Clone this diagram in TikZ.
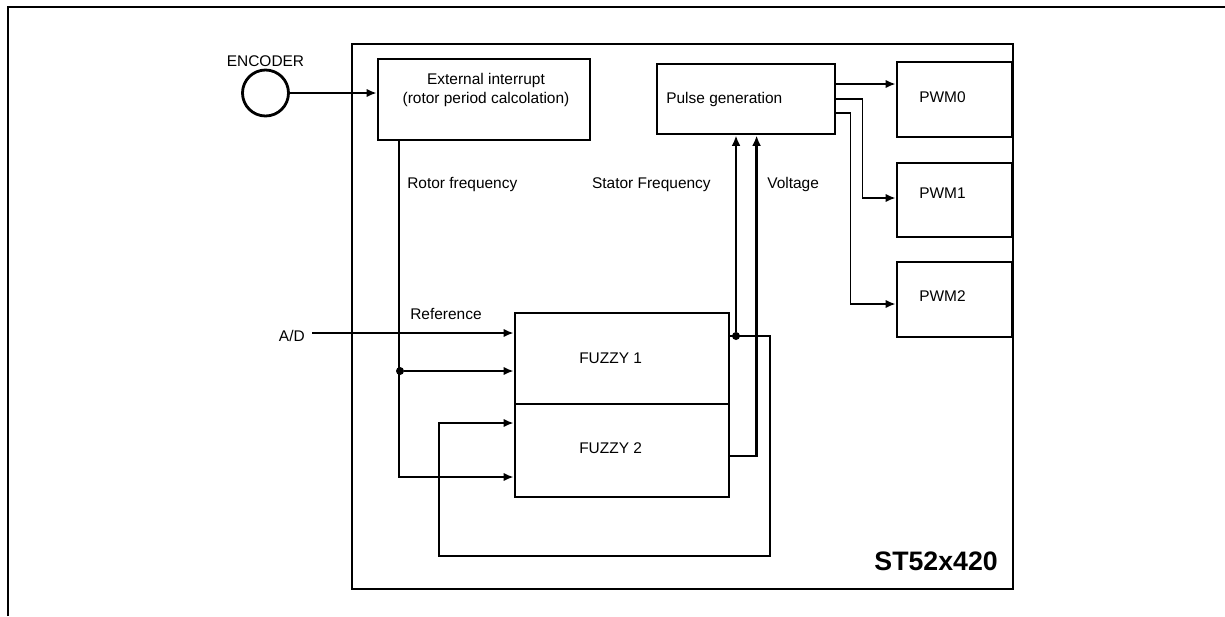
\documentclass[tikz,border=0pt]{standalone}
\usepackage{fontspec}
\setmainfont{Liberation Sans}
\usetikzlibrary{arrows.meta, positioning, calc}
\tikzset{
  block/.style={draw, line width=2pt, inner sep=0pt},
  txt/.style={inner sep=0pt, font=\fontsize{11}{13}\selectfont},
  link/.style={-{Latex[length=2.5mm, width=2.1mm]}, line width=1.3pt},
  feed/.style={-{Latex[length=2.6mm, width=2.2mm]}, line width=1.7pt},
  joint/.style={circle, fill, inner sep=0pt, minimum size=2mm}
}

\begin{document}
\begin{tikzpicture}[x=0.25mm, y=-0.25mm]
        \useasboundingbox (0,0) rectangle (1225,616);

        % Outer frame
        \draw[line width=1.7pt] (8,616) -- (8,7) -- (1225,7);

        % Chip boundary
        \node[block, minimum width=165.25mm, minimum height=136.25mm] (chip) at (682.5,316.5) {};
        \node[anchor=base east, inner sep=0pt, font=\fontsize{19}{22}\selectfont\bfseries] (chipname) at (998,570) {ST52x420};

        % Encoder
        \node[draw, circle, line width=2pt, minimum size=11.5mm, inner sep=0pt] (enc) at (265.5,93) {};
        \node[txt, anchor=base] (enclbl) at (265.5,66) {ENCODER};

        % Blocks
        \node[block, minimum width=53mm, minimum height=20.25mm] (ext) at (484,99.5) {};
        \node[txt, align=center] (exttxt) at (486,90) {External interrupt\\(rotor period calcolation)};
        \node[block, minimum width=44.5mm, minimum height=17.5mm] (pulse) at (746,99) {};
        \node[txt, anchor=base west] (pulsetxt) at (666,103) {Pulse generation};
        \node[block, minimum width=53.5mm, minimum height=22.75mm] (fuzzy1) at (622,358.5) {};
        \node[txt, anchor=base west] (f1txt) at (579,363) {FUZZY 1};
        \node[block, minimum width=53.5mm, minimum height=23.25mm] (fuzzy2) at (622,450.5) {};
        \node[txt, anchor=base west] (f2txt) at (579,453) {FUZZY 2};

        % Outputs
        \node[block, minimum width=28.75mm, minimum height=18.75mm] (pwm0) at (954.5,99.5) {};
        \node[txt, anchor=base west] (pwm0txt) at (919,102) {PWM0};
        \node[block, minimum width=28.75mm, minimum height=18.5mm] (pwm1) at (954.5,200) {};
        \node[txt, anchor=base west] (pwm1txt) at (919,198) {PWM1};
        \node[block, minimum width=28.75mm, minimum height=18.75mm] (pwm2) at (954.5,299.5) {};
        \node[txt, anchor=base west] (pwm2txt) at (919,301) {PWM2};

        % Signal labels
        \node[txt, anchor=base west] (rotlbl) at (407,188) {Rotor frequency};
        \node[txt, anchor=base east] (statlbl) at (711,188) {Stator Frequency};
        \node[txt, anchor=base west] (voltlbl) at (767,188) {Voltage};
        \node[txt, anchor=base west] (reflbl) at (410,319) {Reference};
        \node[txt, anchor=base east] (adlbl) at (305,341) {A/D};

        % Junctions and corners
        \node[joint] (rotdot) at (400,371) {};
        \node[joint] (statdot) at (736,336) {};
        \coordinate (adin) at (312,333);
        \coordinate (rottop) at ($(ext.south west)+(22,0)$);
        \coordinate (f1out) at (729,336);
        \coordinate (f2out) at (729,456);
        \coordinate (fbr) at (770,556);
        \coordinate (fbl) at (439,423);
        \coordinate (p0) at ($(pulse.east)+(0,-15)$);
        \coordinate (p1) at (pulse.east);
        \coordinate (p2) at ($(pulse.east)+(0,14)$);

        % Links
        \draw[link] (enc.east) -- (enc.east -| ext.west);
        \draw[link] (rottop) |- (400,477 -| fuzzy2.west);
        \draw[link] (rotdot) -- (rotdot -| fuzzy1.west);
        \draw[link] (adin) -- (adin -| fuzzy1.west);

        % Feedback loop
        \draw[link] (f1out) -| (fbr) -| (fbl) -- (fbl -| fuzzy2.west);

        % To pulse generation
        \draw[feed] (statdot) -- (statdot |- pulse.south);
        \draw[feed] (f2out) -| ($(pulse.south west)+(101,0)$);

        % PWM channels
        \draw[link] (p0) -- (p0 -| pwm0.west);
        \draw[link] (p1) -- ++(26,0) |- ($(pwm1.west)+(0,-2)$);
        \draw[link] (p2) -- ++(14,0) |- ($(pwm2.west)+(0,4.5)$);
    \end{tikzpicture}
\end{document}
